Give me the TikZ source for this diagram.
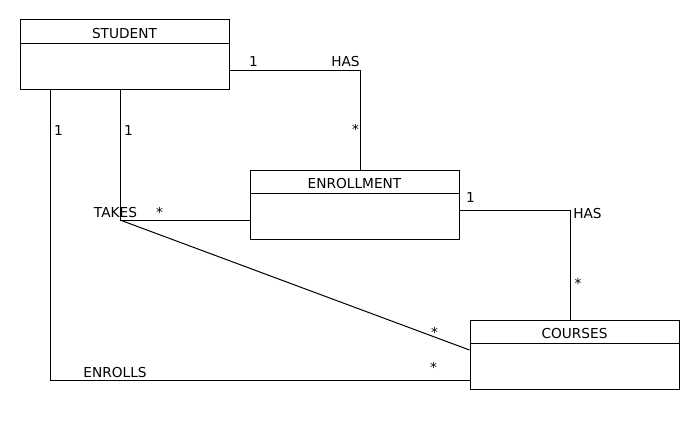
\documentclass[tikz,border=0pt]{standalone}
\usepackage{fontspec}
\setmainfont{DejaVu Sans}
\begin{document}
\begin{tikzpicture}[x=1pt,y=-1pt,
  classbox/.style={draw,line width=1pt,minimum width=209pt,minimum height=69pt,inner sep=0pt},
  title/.style={anchor=base,inner sep=0pt,font=\fontsize{13.7}{16}\selectfont},
  lbl/.style={anchor=base,inner sep=0pt,font=\fontsize{13.7}{16}\selectfont},
  conn/.style={line width=1pt}]
\fill[white] (0,0) rectangle (700,420);
\useasboundingbox (0,0) rectangle (700,420);
% boxes
\node[classbox] (s) at (124.5,54.5) {};
\node[classbox] (e) at (354.5,204.5) {};
\node[classbox] (c) at (574.5,354.5) {};
\foreach \b in {s,e,c}{
  \draw[line width=1pt] ([yshift=-24pt]\b.north west) -- ([yshift=-24pt]\b.north east);
}
\node[title] (st) at (124.5,38) {STUDENT};
\node[title] (et) at (354.5,188) {ENROLLMENT};
\node[title] (ct) at (574.5,338) {COURSES};
% bend points
\coordinate (b1) at (360,70);
\coordinate (t) at (120,220);
\coordinate (en) at (50,380);
\coordinate (h2) at (570,210);
% connectors
\draw[conn] (b1 -| s.east) -- (b1) -- (e.north -| b1);
\draw[conn] (t |- s.south) -- (t) -- (t -| e.west);
\draw[conn] (t) -- ([yshift=4.5pt]c.west);
\draw[conn] (en |- s.south) -- (en) -- (en -| c.west);
\draw[conn] (h2 -| e.east) -- (h2) -- (h2 |- c.north);
% labels
\node[lbl] (l1) at (253.5,66) {1};
\node[lbl] (l2) at (345.5,66) {HAS};
\node[lbl] (l3) at (355.5,134) {*};
\node[lbl] (l4) at (58.5,135) {1};
\node[lbl] (l5) at (128.5,135) {1};
\node[lbl] (l6) at (115.5,217) {TAKES};
\node[lbl] (l7) at (159.5,217) {*};
\node[lbl] (l8) at (470.5,202) {1};
\node[lbl] (l9) at (587.5,218) {HAS};
\node[lbl] (l10) at (578,288) {*};
\node[lbl] (l11) at (434.5,337.5) {*};
\node[lbl] (l12) at (433.5,372.5) {*};
\node[lbl] (l13) at (115,377) {ENROLLS};
\end{tikzpicture}
\end{document}
